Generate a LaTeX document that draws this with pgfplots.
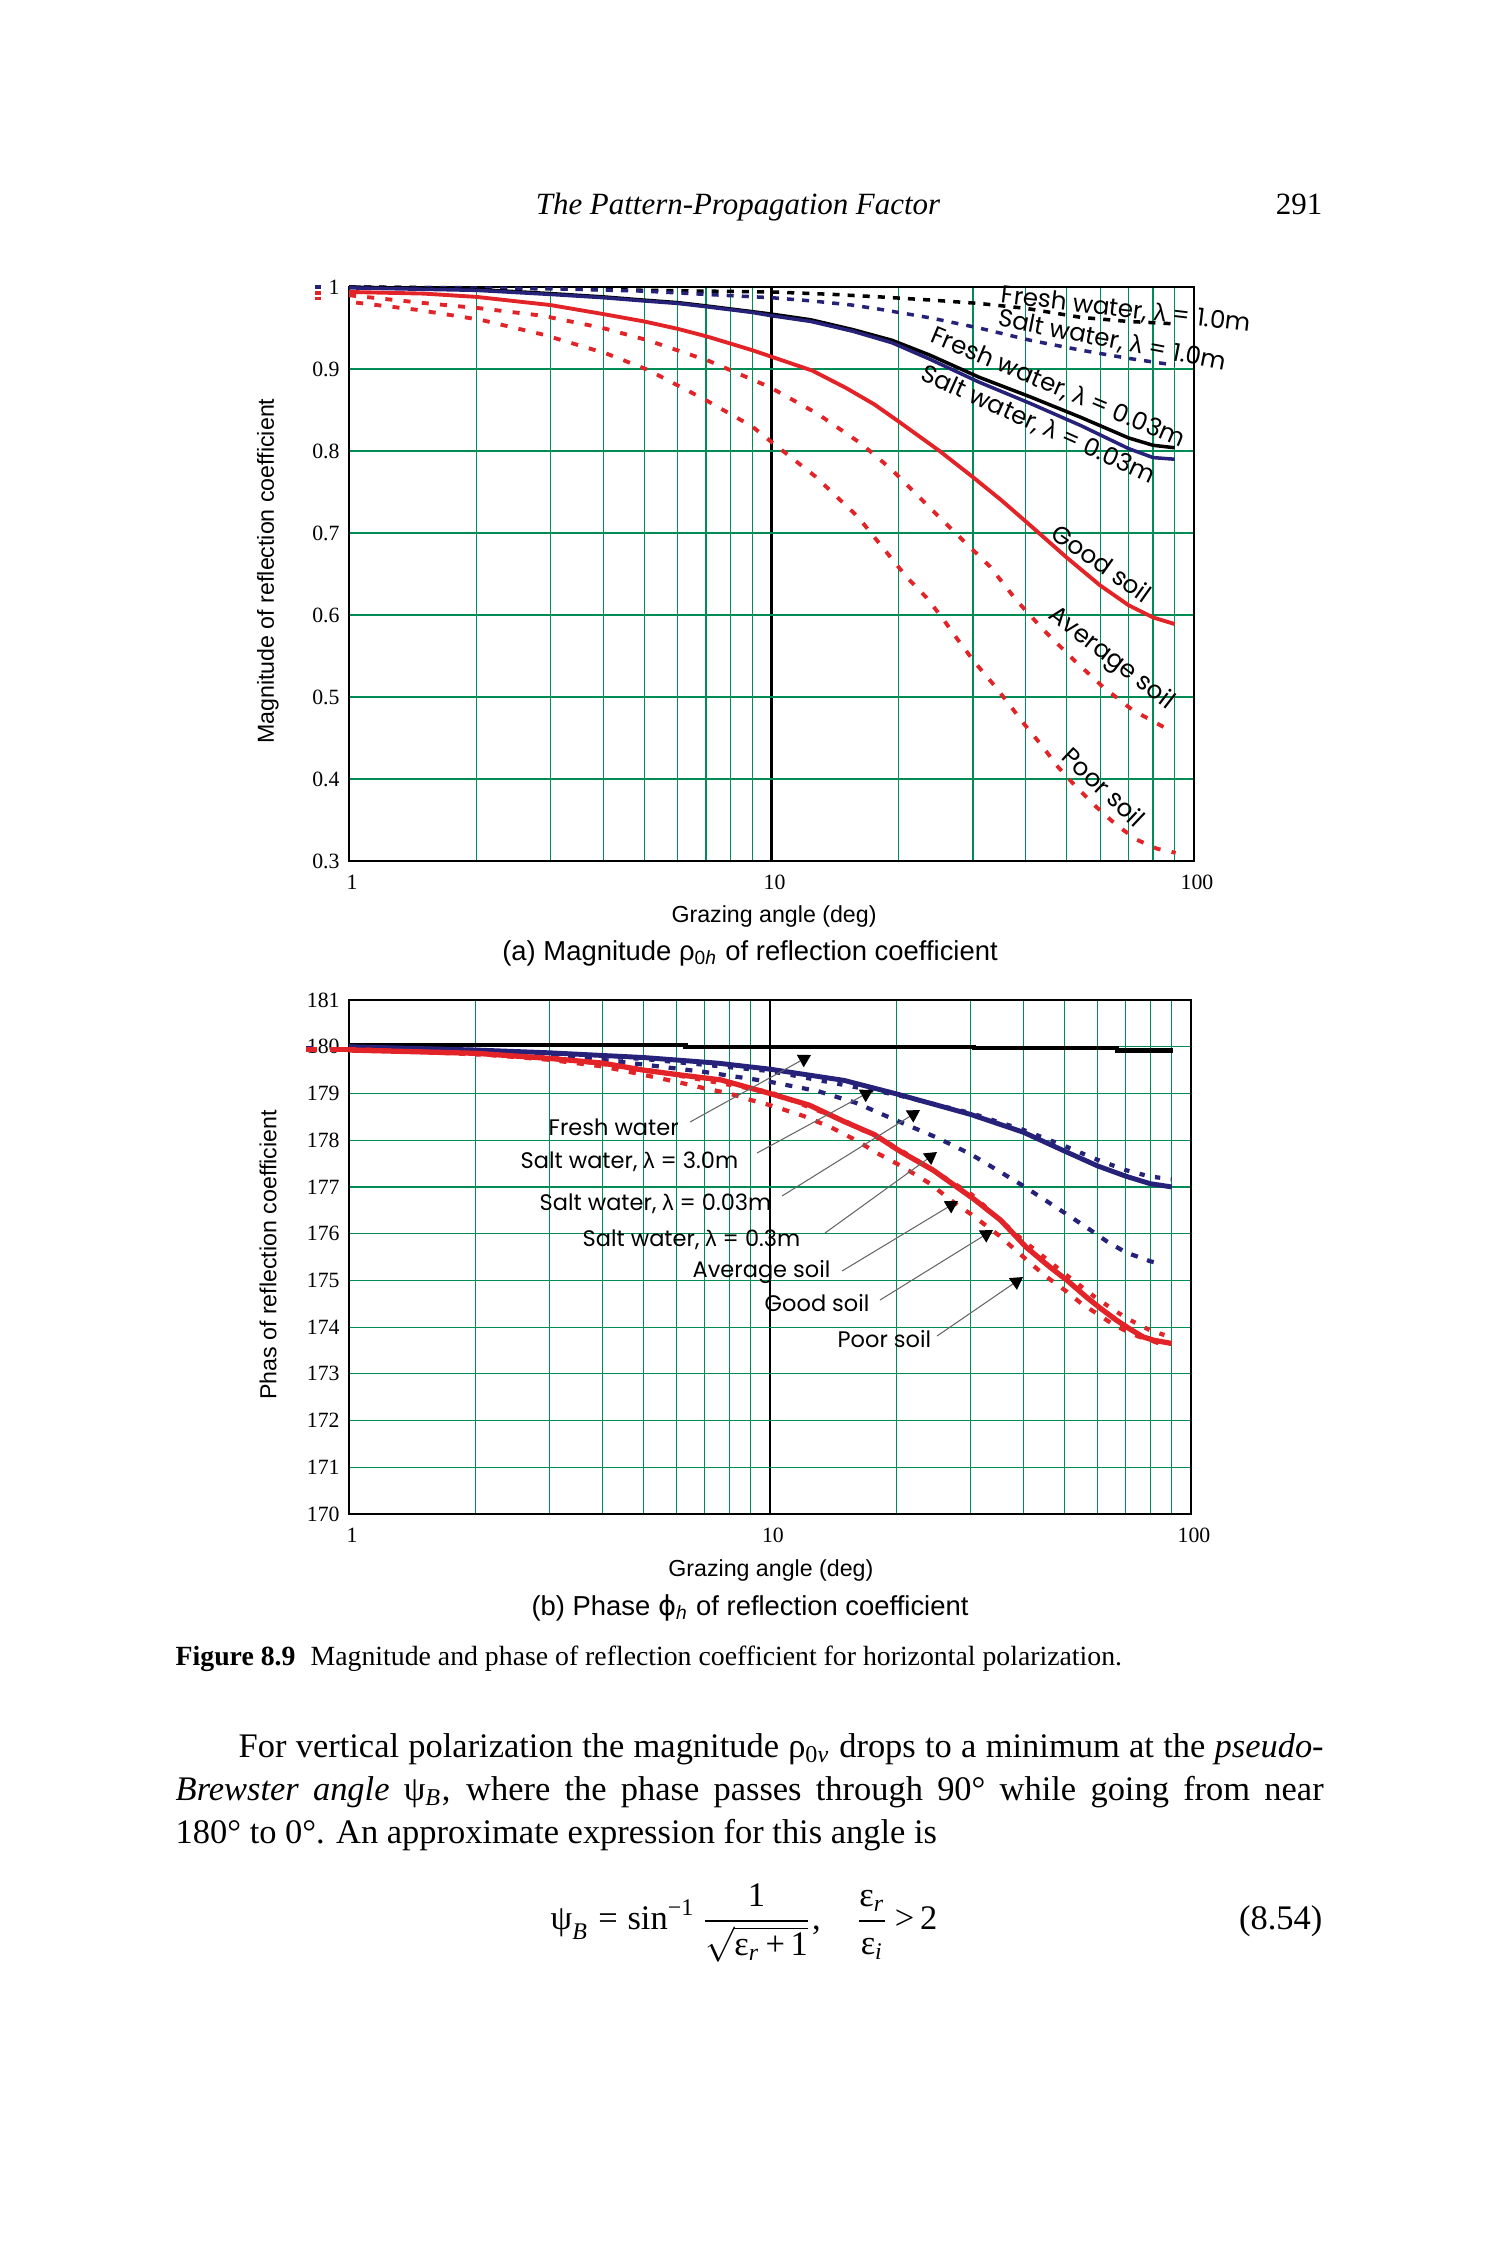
\documentclass[border=0pt]{standalone}
\usepackage{fontspec}
\setmainfont{Liberation Serif}
\setsansfont{Liberation Sans}
\newfontfamily\geo{Poppins}
\newfontfamily\dejavu{DejaVu Sans}
\usepackage{pgfplots}
\pgfplotsset{compat=1.18}
\usetikzlibrary{arrows.meta}
\definecolor{navy}{RGB}{38,34,122}
\definecolor{myred}{RGB}{226,36,40}
\definecolor{gridgreen}{RGB}{0,140,85}
\newcommand{\lam}{{\sffamily λ}}
\newcommand{\annA}{\geo\fontsize{7.0}{8}\selectfont}
\newcommand{\annB}{\geo\fontsize{6.4}{8}\selectfont}
\begin{document}
\begin{tikzpicture}
\useasboundingbox (0,0) rectangle (150mm,-225mm);
% ---------------- (a) magnitude ----------------
\begin{axis}[
  xmode=log, xmin=1, xmax=100,
  scale only axis,
  at={(34.9mm,-86.1mm)}, anchor=south west,
  width=84.5mm, height=57.4mm,
  ymin=0.3, ymax=1,
  xtick={1,10,100}, xticklabels={1,10,100},
  minor xtick={2,3,4,5,6,7,8,9,20,30,40,50,60,70,80,90},
  ytick={0.3,0.4,0.5,0.6,0.7,0.8,0.9,1},
  yticklabels={0.3,0.4,0.5,0.6,0.7,0.8,0.9,1},
  major tick length=0pt, minor tick length=0pt,
  xmajorgrids, xminorgrids, ymajorgrids,
  major x grid style={black, line width=0.6pt},
  minor x grid style={gridgreen, line width=0.35pt},
  major y grid style={gridgreen, line width=0.35pt},
  axis line style={black, line width=0.75pt},
  tick label style={font=\fontsize{6.2}{7}\selectfont},
  xticklabel style={yshift=-0.2mm, xshift=0.3mm},
  yticklabel style={xshift=0.3mm},
  label style={font=\sffamily\fontsize{6.6}{8}\selectfont},
  clip=false,
  xlabel={Grazing angle (deg)},
  ylabel={Magnitude of reflection coefficient},
  xlabel style={at={(axis description cs:0.503,-0.096)}, anchor=center},
  ylabel style={at={(axis description cs:-0.0959,0.505)}, anchor=center},
]
% Fresh water, lambda = 1.0 m
\addplot[black, line width=1pt, dash pattern=on 2pt off 2.3pt] coordinates {
 (1,1.0) (2,0.999) (3,0.998) (5,0.996) (7,0.995) (10,0.994) (14,0.991)
 (18,0.988) (24,0.984) (31,0.980) (40,0.974) (54,0.963) (70,0.958) (84,0.956) (90,0.955)};
% Salt water, lambda = 1.0 m
\addplot[navy, line width=1pt, dash pattern=on 2pt off 2.3pt] coordinates {
 (1,1.0) (3,0.998) (5,0.995) (7,0.991) (10,0.987) (12.5,0.983) (15.5,0.978)
 (18,0.973) (20,0.969) (24,0.962) (31,0.950) (41,0.935) (54,0.923) (70,0.913) (84,0.907) (90,0.905)};
% Fresh water, lambda = 0.03 m
\addplot[black, line width=1pt] coordinates {
 (1,1.0) (2,0.997) (3,0.992) (4,0.988) (5,0.984) (6,0.981) (7,0.977) (9,0.970) (10,0.967)
 (12.4,0.960) (15.6,0.948) (19.3,0.935) (23.7,0.917) (31,0.890) (41,0.866) (54,0.841)
 (70,0.816) (80,0.807) (90,0.804)};
% Salt water, lambda = 0.03 m
\addplot[navy, line width=1pt] coordinates {
 (1,0.999) (2,0.996) (3,0.991) (4,0.987) (5,0.983) (6,0.980) (7,0.976) (9,0.969) (10,0.965)
 (12.4,0.958) (15.6,0.946) (19.3,0.932) (23.7,0.912) (31,0.884) (41,0.858) (54,0.831)
 (70,0.803) (80,0.792) (90,0.790)};
% Good soil
\addplot[myred, line width=1.1pt] coordinates {
 (1,0.994) (1.5,0.992) (2,0.988) (3,0.978) (4,0.967) (5,0.958) (6,0.949) (7,0.940) (8,0.931)
 (9,0.923) (10,0.915) (12.5,0.898) (15,0.877) (17.5,0.857) (20,0.836) (25,0.800) (30,0.768)
 (35,0.740) (40,0.714) (50,0.670) (60,0.636) (70,0.612) (80,0.597) (90,0.589)};
% Average soil
\addplot[myred, line width=1.1pt, dash pattern=on 2pt off 3.2pt] coordinates {
 (1,0.99) (1.47,0.981) (2.05,0.974) (2.87,0.965) (3.99,0.950) (5.1,0.935)
 (7.1,0.910) (9.9,0.878) (12.8,0.846) (16.3,0.809) (19.3,0.777) (24,0.728) (27.9,0.695)
 (32.9,0.659) (38,0.618) (44,0.582) (52,0.545) (61,0.512) (71.6,0.484) (85,0.463)};
% Poor soil
\addplot[myred, line width=1.1pt, dash pattern=on 2pt off 3.2pt] coordinates {
 (1.04,0.981) (1.46,0.972) (2.05,0.960) (2.88,0.942) (4.06,0.919) (5.1,0.899)
 (7,0.862) (9,0.830) (10,0.811) (12.7,0.769) (16,0.720) (19.1,0.671) (21,0.645) (23.3,0.621)
 (25.4,0.596) (27.6,0.570) (30.2,0.543) (33.2,0.518) (36.3,0.493) (39.5,0.468) (43.6,0.441)
 (47.6,0.415) (52.7,0.390) (59,0.365) (65.5,0.344) (73.2,0.326) (81.8,0.315) (90.5,0.310)};
% short stubs left of the axis
\addplot[navy, line width=1pt] coordinates {(0.83,1.0) (0.86,1.0)};
\addplot[myred, line width=1pt] coordinates {(0.83,0.993) (0.86,0.993)};
\addplot[myred, line width=1pt] coordinates {(0.83,0.986) (0.86,0.986)};
\end{axis}
% ---------------- (b) phase ----------------
\begin{axis}[
  xmode=log, xmin=1, xmax=100,
  scale only axis,
  at={(34.9mm,-151.4mm)}, anchor=south west,
  width=84.2mm, height=51.4mm,
  ymin=170, ymax=181,
  xtick={1,10,100}, xticklabels={1,10,100},
  minor xtick={2,3,4,5,6,7,8,9,20,30,40,50,60,70,80,90},
  ytick={170,171,172,173,174,175,176,177,178,179,180,181},
  yticklabels={170,171,172,173,174,175,176,177,178,179,180,181},
  major tick length=0pt, minor tick length=0pt,
  xmajorgrids, xminorgrids, ymajorgrids,
  major x grid style={black, line width=0.6pt},
  minor x grid style={gridgreen, line width=0.35pt},
  major y grid style={gridgreen, line width=0.35pt},
  axis line style={black, line width=0.75pt},
  tick label style={font=\fontsize{6.2}{7}\selectfont},
  xticklabel style={yshift=-0.2mm, xshift=0.3mm},
  yticklabel style={xshift=0.3mm},
  label style={font=\sffamily\fontsize{6.6}{8}\selectfont},
  clip=false,
  xlabel={Grazing angle (deg)},
  ylabel={Phas of reflection coefficient},
  xlabel style={at={(axis description cs:0.501,-0.109)}, anchor=center},
  ylabel style={at={(axis description cs:-0.0962,0.504)}, anchor=center},
]
% Fresh water
\addplot[black, line width=1.2pt] coordinates {
 (1,180.04) (6.3,180.04) (6.3,180.0) (30.5,180.0) (30.5,179.97) (66.7,179.97)
 (66.7,179.92) (90.6,179.92)};
% Salt water (dotted, close to solid)
\addplot[navy, line width=1.2pt, dash pattern=on 1.5pt off 3pt] coordinates {
 (1,180.0) (3,179.86) (5,179.74) (10,179.48) (20,178.97) (30,178.58) (40,178.22)
 (50,177.88) (60,177.58) (70,177.36) (80,177.22) (90,177.17)};
% Salt water (solid)
\addplot[navy, line width=1.4pt] coordinates {
 (1,180.0) (2,179.93) (3,179.87) (5,179.77) (7.5,179.65) (10,179.52)
 (15,179.28) (20,178.99) (30,178.55) (40,178.17) (50,177.77) (60,177.45) (70,177.23)
 (80,177.07) (90,177.0)};
% Salt water (dotted, lower)
\addplot[navy, line width=1.2pt, dash pattern=on 2pt off 2.8pt] coordinates {
 (1,180.0) (2,179.93) (3,179.84) (4,179.72) (5,179.62) (7,179.46) (10,179.25) (13,179.05)
 (16,178.8) (20,178.42) (25,178.05) (30,177.7) (36,177.27) (40,177.02) (45,176.72)
 (50,176.45) (57,176.11) (63,175.84) (70,175.6) (80,175.41) (85,175.35)};
% Soil (dotted, lower)
\addplot[myred, line width=1.2pt, dash pattern=on 2pt off 3pt] coordinates {
 (1,179.95) (2,179.85) (3,179.72) (4,179.58) (5,179.4) (6,179.25) (7,179.11)
 (8,179.0) (9,178.86) (10,178.75) (12,178.52) (14,178.27) (16,178.0) (18,177.72) (20,177.5)
 (22,177.28) (24,177.07) (26,176.82) (28,176.6) (30,176.42) (35,175.96) (40,175.5)
 (45,175.1) (50,174.8) (55,174.5) (60,174.28) (65,174.07) (70,173.92) (75,173.8)
 (80,173.72) (86,173.62)};
% Soil (dotted, close to solid)
\addplot[myred, line width=1.2pt, dash pattern=on 1.5pt off 3pt] coordinates {
 (1,179.95) (3,179.77) (5,179.52) (10,179.03) (15,178.42) (20,177.84)
 (30,176.85) (40,175.85) (50,175.15) (60,174.6) (70,174.2) (80,173.93) (90,173.78)};
% Soil (solid)
\addplot[myred, line width=1.5pt] coordinates {
 (1,179.93) (2,179.86) (3,179.75) (4,179.65) (5,179.5) (6.2,179.39)
 (7.65,179.29) (10,179.0) (12.4,178.75) (15,178.4) (17.7,178.12) (20.4,177.76)
 (24.4,177.36) (30.5,176.74) (35.3,176.29) (40.6,175.71) (46.3,175.28) (50.8,175.0)
 (56.5,174.64) (61,174.4) (66.5,174.15) (71,173.98) (77,173.79) (81.5,173.72) (90,173.65)};
% short stubs left of the axis
\addplot[navy, line width=1pt] coordinates {(0.79,179.98) (0.82,179.98)};
\addplot[myred, line width=1.2pt] coordinates {(0.79,179.94) (0.84,179.94)};
\addplot[myred, line width=1.2pt] coordinates {(0.9,179.94) (1,179.94)};
\end{axis}
% ---------------- page text and annotations ----------------
\begin{scope}[x=0.1mm, y=-0.1mm]
% running head
\node[anchor=base, inner sep=0, font={\fontsize{8.8}{10}\selectfont\itshape}] at (738,214) {The Pattern-Propagation Factor};
\node[anchor=base east, inner sep=0, font={\fontsize{8.8}{10}\selectfont}] at (1323,214) {291};
% annotations (a)
\node[rotate=-6.7, inner sep=0] at (1126,310) {\annA Fresh water, \lam{} = 1.0m};
\node[rotate=-11.1, inner sep=0] at (1112,341) {\annA Salt water, \lam{} = 1.0m};
\node[rotate=-22.8, inner sep=0] at (1058,388) {\annA Fresh water, \lam{} = 0.03m};
\node[rotate=-24.3, inner sep=0] at (1038,425) {\annA Salt water, \lam{} = 0.03m};
\node[rotate=-35.3, inner sep=0] at (1102,563) {\annA Good soil};
\node[rotate=-37.7, inner sep=0] at (1111,659) {\annA Average soil};
\node[rotate=-43.5, inner sep=0] at (1104,787) {\annA Poor soil};
% subcaption (a)
\node[font={\sffamily\fontsize{7.8}{9}\selectfont}] at (750,953) {(a) Magnitude ρ\textsubscript{0\textit{h}} of reflection coefficient};
% annotations (b)
\node[anchor=west, inner sep=0] at (548,1127) {\annB Fresh water};
\node[anchor=west, inner sep=0] at (520,1162) {\annB Salt water, \lam{} = 3.0m};
\node[anchor=west, inner sep=0] at (539,1204) {\annB Salt water, \lam{} = 0.03m};
\node[anchor=west, inner sep=0] at (582,1240) {\annB Salt water, \lam{} = 0.3m};
\node[anchor=west, inner sep=0] at (692,1272) {\annB Average soil};
\node[anchor=west, inner sep=0] at (764,1303) {\annB Good soil};
\node[anchor=west, inner sep=0] at (837,1339) {\annB Poor soil};
\begin{scope}[gray!80!black, line width=0.3pt, -{Triangle[black, width=4pt, length=3.5pt]}]
\draw (690,1122) -- (811,1055);
\draw (757,1153) -- (873,1090);
\draw (782,1196) -- (920,1110);
\draw (825,1233) -- (937,1152);
\draw (842,1271) -- (958,1201);
\draw (880,1300) -- (993,1230);
\draw (937,1336) -- (1023,1277);
\end{scope}
% subcaption (b)
\node[font={\sffamily\fontsize{7.8}{9}\selectfont}] at (750,1608) {(b) Phase {\dejavu ϕ}\textsubscript{\textit{h}} of reflection coefficient};
% figure caption
\node[anchor=west, inner sep=0, font={\fontsize{7.9}{9.5}\selectfont}] at (175,1659) {\textbf{Figure 8.9}};
\node[anchor=west, inner sep=0, font={\fontsize{7.9}{9.5}\selectfont}] at (310,1659) {Magnitude and phase of reflection coefficient for horizontal polarization.};
% body text
\node[anchor=base west, inner sep=0, font={\fontsize{9.8}{12}\selectfont}] at (238,1757) {\makebox[108.5mm][s]{For vertical polarization the magnitude ρ\textsubscript{0\textit{v}} drops to a minimum at the \textit{pseudo-}}};
\node[anchor=base west, inner sep=0, font={\fontsize{9.8}{12}\selectfont}] at (175,1800) {\makebox[114.8mm][s]{\textit{Brewster angle} ψ\textsubscript{\textit{B}}, where the phase passes through 90° while going from near}};
\node[anchor=base west, inner sep=0, font={\fontsize{9.8}{12}\selectfont}] at (175,1843) {180° to 0°. An approximate expression for this angle is};
% equation
\node[anchor=west, inner sep=0, font={\fontsize{9.8}{12}\selectfont}] at (550,1923) {$\displaystyle \mbox{ψ}_{\mbox{\fontsize{6.8}{8}\selectfont\itshape B}} \mathrel{\mbox{=}} \mbox{sin}^{\mbox{\fontsize{6.8}{8}\selectfont −1}}\,\frac{\mbox{1}}{\sqrt{\mbox{ε}_{\mbox{\fontsize{6.8}{8}\selectfont\itshape r}}\mbox{\,+\,1}}}\mbox{,}\quad \frac{\mbox{ε}_{\mbox{\fontsize{6.8}{8}\selectfont\itshape r}}}{\mbox{ε}_{\mbox{\fontsize{6.8}{8}\selectfont\itshape i}}}\mbox{\,>\,2}$};
\node[anchor=east, inner sep=0, font={\fontsize{9.8}{12}\selectfont}] at (1323,1921) {(8.54)};
\end{scope}
\end{tikzpicture}
\end{document}
